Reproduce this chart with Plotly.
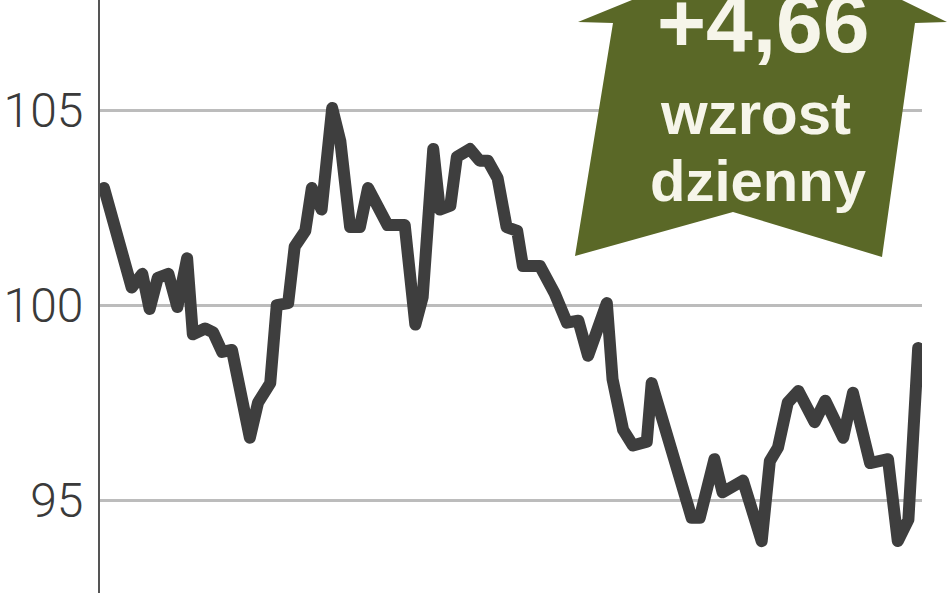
import plotly.graph_objects as go

# ---- data ----
days = [0, 3.4, 4.7, 5.6, 6.6, 7.9, 9.0, 10.2, 10.9, 12.4, 13.4, 14.5, 15.7, 17.9, 18.9,
        20.4, 21.2, 22.6, 23.4, 24.7, 25.5, 26.7, 28.0, 29.0, 30.2, 31.4, 32.4, 33.9, 34.8,
        36.9, 38.2, 39.1, 40.4, 41.2, 42.5, 43.3, 44.9, 46.1, 47.1, 48.3, 49.4, 50.7, 51.4,
        53.5, 55.3, 56.8, 58.2, 59.4, 61.7, 62.4, 63.7, 64.9, 66.6, 67.2, 72.1, 73.1, 74.9,
        75.9, 78.4, 80.7, 81.7, 82.7, 83.9, 85.2, 87.2, 88.5, 90.7, 91.9, 94.0, 96.2, 97.4,
        98.7, 99.9]
values = [103.0, 100.45, 100.8, 99.9, 100.7, 100.8, 99.95, 101.2, 99.25, 99.4, 99.3, 98.8,
          98.85, 96.6, 97.5, 98.0, 100.0, 100.05, 101.5, 101.9, 103.0, 102.45, 105.05, 104.2,
          102.0, 102.0, 103.0, 102.45, 102.05, 102.05, 99.5, 100.2, 104.0, 102.45, 102.55,
          103.8, 104.0, 103.7, 103.7, 103.25, 102.0, 101.9, 101.0, 101.0, 100.3, 99.55, 99.6,
          98.7, 100.05, 98.1, 96.8, 96.4, 96.5, 98.0, 94.55, 94.55, 96.05, 95.2, 95.5, 93.95,
          96.0, 96.35, 97.5, 97.8, 97.0, 97.55, 96.6, 97.75, 95.95, 96.05, 93.95, 94.5, 98.9]
tick_vals = [95, 100, 105]
tick_text = ["95", "100", "105"]
change_label = "+4,66"
change_words = ["wzrost", "dzienny"]

W, H = 948, 593
ML, MR = 100, 26
PW = W - ML - MR


def px(x, y):
    return (x - ML) / PW, 1 - y / H


fig = go.Figure()
fig.add_trace(go.Scatter(
    x=days, y=values, mode="lines",
    line=dict(color="#3e3e3e", width=12),
    hoverinfo="skip", showlegend=False,
))

# arrow badge
arrow_px = [(632, 0), (578, 22), (613, 23), (575, 256), (733, 212), (882, 257),
            (915, 23), (947, 22), (902, 0)]
pts = [px(a, b) for a, b in arrow_px]
path = "M " + " L ".join(f"{a:.5f},{b:.5f}" for a, b in pts) + " Z"
fig.add_shape(type="path", path=path, xref="paper", yref="paper",
              fillcolor="#5a6827", line=dict(width=0), layer="above")

txt_font = "Liberation Sans, Arial, sans-serif"
ax, ay = px(763, 23)
fig.add_annotation(x=ax, y=ay, xref="paper", yref="paper", text=change_label,
                   showarrow=False, xanchor="center", yanchor="middle",
                   font=dict(family=txt_font, size=84, color="#f6f5ea", weight="bold"))
ax, ay = px(755, 113)
fig.add_annotation(x=ax, y=ay, xref="paper", yref="paper", text=change_words[0],
                   showarrow=False, xanchor="center", yanchor="middle",
                   font=dict(family=txt_font, size=60, color="#f6f5ea", weight="bold"))
ax, ay = px(758, 181)
fig.add_annotation(x=ax, y=ay, xref="paper", yref="paper", text=change_words[1],
                   showarrow=False, xanchor="center", yanchor="middle",
                   font=dict(family=txt_font, size=58, color="#f6f5ea", weight="bold"))

fig.update_layout(
    width=W, height=H,
    margin=dict(l=ML, r=MR, t=0, b=0),
    paper_bgcolor="white", plot_bgcolor="white",
    xaxis=dict(range=[-0.49, 100.37], visible=False, showgrid=False, zeroline=False),
    yaxis=dict(range=[92.62, 107.82], tickvals=tick_vals, ticktext=tick_text,
               showgrid=True, gridcolor="#bcbcbc", gridwidth=2.5, zeroline=False,
               showline=True, linecolor="#555555", linewidth=2, ticks="",
               ticklabelstandoff=5,
               tickfont=dict(family="Roboto, sans-serif", size=48, color="#3a3a3a", weight=300)),
)

post = ("document.body.style.margin='0';document.body.style.overflow='hidden';"
        "document.querySelectorAll('.js-line').forEach(function(e){"
        "e.style.strokeLinejoin='round';e.style.strokeLinecap='round';});")
fig.write_html("out.html", post_script=post, config={"displayModeBar": False})
